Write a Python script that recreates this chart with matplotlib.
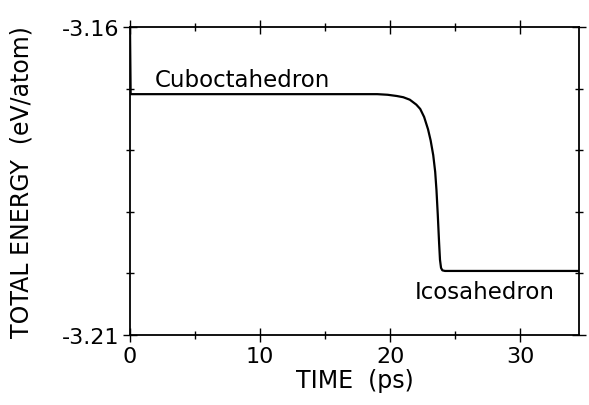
import matplotlib
matplotlib.use("Agg")
import matplotlib.pyplot as plt
from matplotlib.ticker import FixedLocator, MultipleLocator

# energy trace
time_ps = [0.0, 0.05, 5.0, 10.0, 15.0, 19.0, 19.8, 20.5, 21.0, 21.5, 22.0,
           22.3, 22.6, 22.9, 23.1, 23.3, 23.45, 23.55, 23.65, 23.75, 23.82,
           23.9, 24.0, 24.2, 28.0, 32.0, 34.5]
energy = [-3.1600, -3.1709, -3.1709, -3.1709, -3.1709, -3.1709, -3.1710,
          -3.1712, -3.1714, -3.1718, -3.1726, -3.1733, -3.1746, -3.1766,
          -3.1784, -3.1808, -3.1835, -3.1865, -3.1905, -3.1950, -3.1978,
          -3.1991, -3.1995, -3.1996, -3.1996, -3.1996, -3.1996]

y_major = [-3.21, -3.16]
y_major_labels = ["-3.21", "-3.16"]
x_major = [0, 10, 20, 30]

fig = plt.figure(figsize=(5.89, 4.06), dpi=100)
ax = fig.add_axes([0.2207, 0.1724, 0.7623, 0.7586])

ax.plot(time_ps, energy, color="black", lw=1.6, solid_joinstyle="round")

ax.set_xlim(0, 34.5)
ax.set_ylim(-3.21, -3.16)

ax.xaxis.set_major_locator(FixedLocator(x_major))
ax.xaxis.set_minor_locator(MultipleLocator(5))
ax.yaxis.set_major_locator(FixedLocator(y_major))
ax.set_yticklabels(y_major_labels)
ax.yaxis.set_minor_locator(MultipleLocator(0.01))

ax.tick_params(which="both", direction="inout", top=True, right=True,
               width=1.0, labelsize=16, pad=3)
ax.tick_params(which="major", length=10)
ax.tick_params(which="minor", length=6)
for s in ax.spines.values():
    s.set_linewidth(1.3)

ax.set_xlabel("TIME  (ps)", fontsize=17, labelpad=1)
ax.set_ylabel("TOTAL ENERGY  (eV/atom)", fontsize=17, labelpad=20)

ax.text(1.9, -3.1685, "Cuboctahedron", fontsize=16.5, va="center", ha="left")
ax.text(21.9, -3.2029, "Icosahedron", fontsize=16.5, va="center", ha="left")

fig.savefig("out.png", dpi=100)
